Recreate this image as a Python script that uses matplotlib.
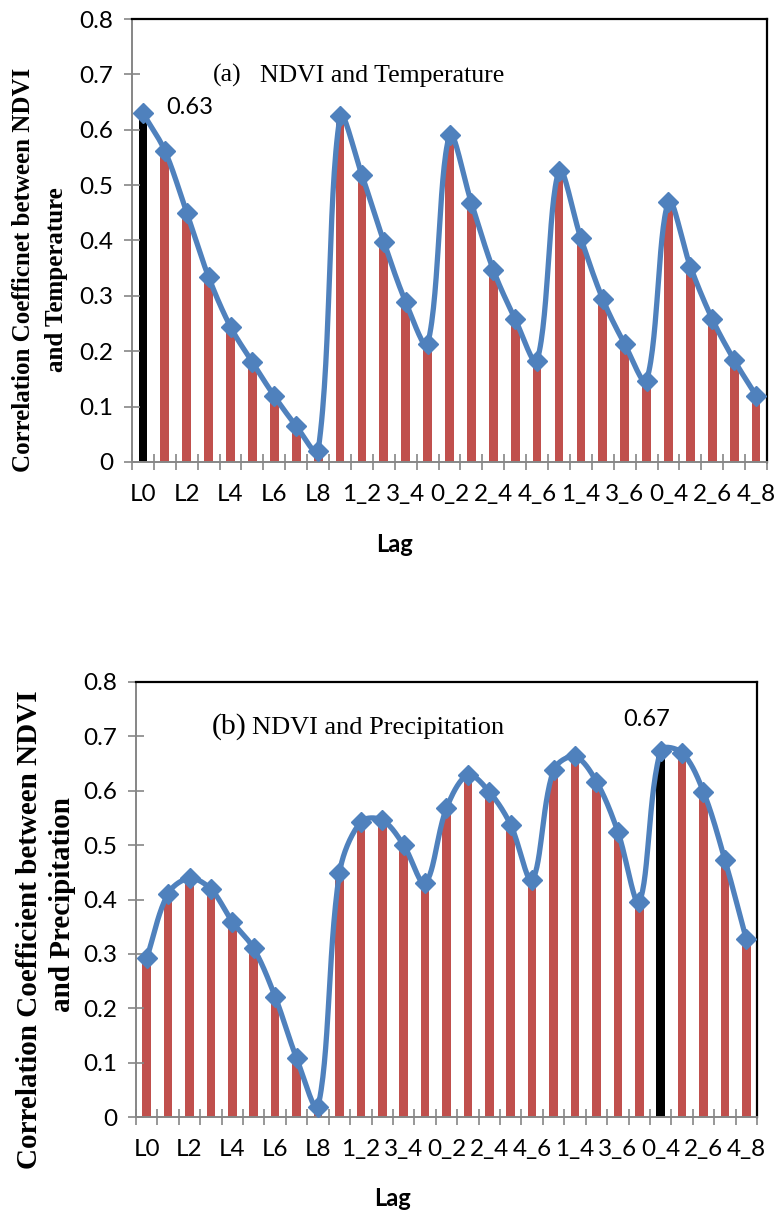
import matplotlib
matplotlib.use('Agg')
import matplotlib.pyplot as plt
import numpy as np

# lag categories shared by both panels
lags = ['L0', 'L1', 'L2', 'L3', 'L4', 'L5', 'L6', 'L7', 'L8',
        '0_1', '1_2', '2_3', '3_4', '4_5',
        '0_2', '1_3', '2_4', '3_5', '4_6',
        '0_3', '1_4', '2_5', '3_6', '4_7',
        '0_4', '1_5', '2_6', '3_7', '4_8']

# correlation of NDVI with temperature / precipitation for each lag
temp_corr = [0.630, 0.562, 0.450, 0.334, 0.244, 0.180, 0.119, 0.065, 0.020,
             0.624, 0.518, 0.398, 0.289, 0.213,
             0.590, 0.468, 0.347, 0.258, 0.183,
             0.526, 0.404, 0.294, 0.213, 0.147,
             0.470, 0.353, 0.258, 0.184, 0.120]
prec_corr = [0.292, 0.411, 0.439, 0.419, 0.359, 0.310, 0.221, 0.108, 0.019,
             0.448, 0.543, 0.546, 0.500, 0.430,
             0.568, 0.629, 0.598, 0.537, 0.436,
             0.638, 0.663, 0.617, 0.525, 0.396,
             0.674, 0.670, 0.598, 0.473, 0.327]

BAR = '#C0504D'
LINE = '#4F81BD'
GREY = '#868686'
SANS = 'Lato'
SERIF = 'Liberation Serif'
W, H = 777, 1216


def smooth(x, y, kx, ky, n=30):
    # bezier through every point; tangents from neighbours, scaled by
    # chord length in screen units (kx, ky = pixels per data unit)
    p = np.column_stack([np.asarray(x, float) * kx, np.asarray(y, float) * ky])
    m = len(p)
    t = np.linspace(0, 1, n + 1)[1:, None]
    out = [p[0]]
    for i in range(m - 1):
        p0 = p[max(i - 1, 0)]
        p1, p2 = p[i], p[i + 1]
        p3 = p[min(i + 2, m - 1)]
        d01 = np.hypot(*(p1 - p0))
        d12 = np.hypot(*(p2 - p1))
        d23 = np.hypot(*(p3 - p2))
        c1 = p1 + (p2 - p0) * d12 / (d01 + d12) / 3.0
        c2 = p2 - (p3 - p1) * d12 / (d12 + d23) / 3.0
        b = ((1 - t) ** 3 * p1 + 3 * (1 - t) ** 2 * t * c1
             + 3 * (1 - t) * t ** 2 * c2 + t ** 3 * p2)
        out.extend(b)
    out = np.array(out)
    return out[:, 0] / kx, out[:, 1] / ky


def panel(ax, values, peak, label_offset):
    x = np.arange(len(values))
    colors = [BAR] * len(values)
    colors[peak] = 'black'
    ax.bar(x, values, width=0.4, color=colors, zorder=1)

    pos = ax.get_position()
    kx = pos.width * W / len(values)
    ky = pos.height * H / 0.8
    sx, sy = smooth(x, values, kx, ky)
    ax.plot(sx, sy, color=LINE, lw=3.8, zorder=2, solid_capstyle='round')
    ax.plot(x, values, ls='none', marker='D', ms=10.5, color=LINE, zorder=3)
    ax.annotate('%.2f' % values[peak], (x[peak], values[peak]),
                xytext=label_offset, textcoords='offset points',
                ha='center', va='center', fontsize=17, family=SANS)

    ax.set_xlim(-0.5, len(values) - 0.5)
    ax.set_ylim(0, 0.8)
    ax.set_xticks(x[::2])
    ax.set_xticklabels(lags[::2], family=SANS, fontsize=17.5)
    ax.set_xticks(np.arange(-0.5, len(values), 1), minor=True)
    ax.tick_params(axis='x', which='major', length=0, pad=16)
    ax.tick_params(axis='x', which='minor', length=12, width=1.2,
                   direction='inout', color=GREY)
    ticks = np.arange(0, 0.81, 0.1)
    ax.set_yticks(ticks)
    ax.set_yticklabels(['0'] + ['%.1f' % v for v in ticks[1:]],
                       family=SANS, fontsize=17.5)
    ax.tick_params(axis='y', length=11, width=1.2, direction='inout',
                   color=GREY, pad=8)
    ax.spines['left'].set_color(GREY)
    ax.spines['bottom'].set_color(GREY)
    ax.spines['left'].set_linewidth(1.4)
    ax.spines['bottom'].set_linewidth(1.4)
    ax.spines['top'].set_linewidth(1.6)
    ax.spines['right'].set_linewidth(1.6)
    ax.set_xlabel('Lag', family=SANS, fontsize=17, fontweight='bold')
    ax.xaxis.label.set_va('center')


fig = plt.figure(figsize=(W / 100, H / 100), dpi=100)

# (a) temperature
ax1 = fig.add_axes([132 / W, 1 - 462 / H, 635 / W, 443 / H])
panel(ax1, temp_corr, 0, (34, 4))
ax1.xaxis.set_label_coords((395 - 132) / 635, (462 - 545) / 443)
fig.text(213 / W, 1 - 81.7 / H, '(a)', family=SERIF, fontsize=18.5,
         va='baseline')
fig.text(260 / W, 1 - 81.7 / H, 'NDVI and Temperature', family=SERIF,
         fontsize=18.5, va='baseline')
fig.text(24 / W, 1 - 270 / H, 'Correlation Coefficnet between NDVI',
         family=SERIF, fontsize=18, fontweight='bold', rotation=90,
         ha='center', va='center')
fig.text(57 / W, 1 - 280 / H, 'and Temperature', family=SERIF,
         fontsize=18, fontweight='bold', rotation=90,
         ha='center', va='center')

# (b) precipitation
ax2 = fig.add_axes([136 / W, 1 - 1117 / H, 621 / W, 435 / H])
panel(ax2, prec_corr, 24, (-10, 22))
ax2.xaxis.set_label_coords((393 - 136) / 621, (1117 - 1198) / 435)
fig.text(212 / W, 1 - 734 / H, '(b)', family=SERIF, fontsize=21.5,
         va='baseline')
fig.text(252 / W, 1 - 734 / H, 'NDVI and Precipitation', family=SERIF,
         fontsize=19, va='baseline')
fig.text(30 / W, 1 - 930 / H, 'Correlation Coefficient between NDVI',
         family=SERIF, fontsize=21, fontweight='bold', rotation=90,
         ha='center', va='center')
fig.text(62 / W, 1 - 905 / H, 'and Precipitation', family=SERIF,
         fontsize=21, fontweight='bold', rotation=90,
         ha='center', va='center')

fig.savefig('out.png', dpi=100)
